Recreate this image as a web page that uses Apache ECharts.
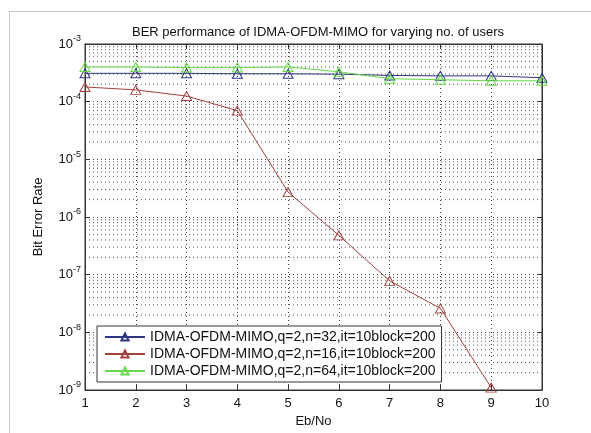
<!DOCTYPE html>
<html>
<head>
<meta charset="utf-8">
<script src="https://cdn.jsdelivr.net/npm/echarts@6/dist/echarts.min.js"></script>
<style>
  html, body { margin: 0; padding: 0; background: #fff; }
  #chart { width: 591px; height: 433px; }
</style>
</head>
<body>
<div id="chart"></div>
<script>
const ebNo = [1, 2, 3, 4, 5, 6, 7, 8, 9, 10];
const berN32 = [3.1e-4, 3.1e-4, 3.1e-4, 3.05e-4, 3.05e-4, 3.0e-4, 2.85e-4, 2.8e-4, 2.8e-4, 2.6e-4];
const berN16 = [1.8e-4, 1.6e-4, 1.25e-4, 7e-5, 2.7e-6, 4.8e-7, 7.8e-8, 2.6e-8, 1.1e-9, null];
const berN64 = [4.0e-4, 4.0e-4, 3.9e-4, 3.9e-4, 4.0e-4, 3.3e-4, 2.5e-4, 2.4e-4, 2.3e-4, 2.3e-4];
const seriesNames = [
    'IDMA-OFDM-MIMO,q=2,n=32,it=10block=200',
    'IDMA-OFDM-MIMO,q=2,n=16,it=10block=200',
    'IDMA-OFDM-MIMO,q=2,n=64,it=10block=200'
];
const colors = ['#2e3580', '#a3413f', '#66d84a'];

const FONT = 'Liberation Sans';

// minor log grid: 2..9 x 10^n, one broken polyline across the plot
let minorGrid = [];
for (let e = -9; e < -3; e++) {
    for (let k = 2; k <= 9; k++) {
        let v = k * Math.pow(10, e);
        minorGrid.push([1, v], [10, v], [10, '-']);
    }
}

const dotted = { color: '#444', type: [1, 3], width: 1 };

function makeSeries(name, values, color, z) {
    return {
        name: name,
        type: 'line',
        data: ebNo.map((x, i) => [x, values[i]]),
        symbol: 'triangle',
        symbolSize: [10, 9],
        connectNulls: false,
        z: z,
        lineStyle: { color: color, width: 1 },
        itemStyle: { color: 'rgba(255,255,255,0)', borderColor: color, borderWidth: 1 },
        emphasis: { disabled: true }
    };
}

let chartDom = document.getElementById('chart');
let myChart = echarts.init(chartDom);
let option;

option = {
    animation: false,
    backgroundColor: '#fff',
    title: {
        text: 'BER performance of IDMA-OFDM-MIMO for varying no. of users',
        left: 313,
        textAlign: 'center',
        top: 21,
        textStyle: { fontFamily: FONT, fontSize: 13, fontWeight: 'normal', color: '#111' }
    },
    graphic: [
        { type: 'line', shape: { x1: 9, y1: 11.5, x2: 591, y2: 11.5 }, style: { stroke: '#c8c8c8', lineWidth: 1 } },
        { type: 'line', shape: { x1: 9.5, y1: 11, x2: 9.5, y2: 433 }, style: { stroke: '#c8c8c8', lineWidth: 1 } }
    ],
    grid: {
        left: 85, right: 49, top: 44, bottom: 43,
        show: true, borderColor: '#333', borderWidth: 1
    },
    legend: {
        orient: 'vertical',
        left: 97,
        top: 326,
        data: seriesNames,
        itemWidth: 40,
        itemHeight: 9,
        itemGap: 3,
        padding: [4, 6, 4, 7],
        backgroundColor: '#fff',
        borderColor: '#333',
        borderWidth: 1,
        borderRadius: 0,
        z: 10,
        textStyle: { fontFamily: FONT, fontSize: 14, color: '#111' }
    },
    xAxis: [
        {
            type: 'value', min: 1, max: 10, interval: 1,
            name: 'Eb/No', nameLocation: 'middle', nameGap: 23,
            nameTextStyle: { fontFamily: FONT, fontSize: 13, color: '#111' },
            axisLine: { show: true, onZero: false, lineStyle: { color: '#333' } },
            axisTick: { inside: true, length: 5, lineStyle: { color: '#333' } },
            axisLabel: { fontFamily: FONT, fontSize: 13, color: '#111', margin: 7 },
            splitLine: { show: true, lineStyle: dotted }
        },
        {
            type: 'value', min: 1, max: 10, interval: 1, position: 'top',
            axisLine: { show: true, onZero: false, lineStyle: { color: '#333' } },
            axisTick: { inside: true, length: 5, lineStyle: { color: '#333' } },
            axisLabel: { show: false },
            splitLine: { show: false }
        }
    ],
    yAxis: [
        {
            type: 'log', logBase: 10, min: 1e-9, max: 1e-3, interval: 1,
            name: 'Bit Error Rate', nameLocation: 'middle', nameGap: 40,
            nameTextStyle: { fontFamily: FONT, fontSize: 13, color: '#111' },
            axisLine: { show: true, onZero: false, lineStyle: { color: '#333' } },
            axisTick: { inside: true, length: 5, lineStyle: { color: '#333' } },
            axisLabel: {
                margin: 4,
                formatter: function (v) {
                    let e = Math.round(Math.log10(v));
                    return '{b|10}{s|' + e + '}';
                },
                rich: {
                    b: { fontFamily: FONT, fontSize: 13, color: '#111' },
                    s: { fontFamily: FONT, fontSize: 9, color: '#111', padding: [0, 0, 10, 0] }
                }
            },
            splitLine: { show: true, lineStyle: dotted }
        },
        {
            type: 'log', logBase: 10, min: 1e-9, max: 1e-3, interval: 1, position: 'right',
            axisLine: { show: true, onZero: false, lineStyle: { color: '#333' } },
            axisTick: { inside: true, length: 5, lineStyle: { color: '#333' } },
            axisLabel: { show: false },
            splitLine: { show: false }
        }
    ],
    series: [
        {
            name: 'minor-grid',
            type: 'line',
            data: minorGrid,
            showSymbol: false,
            symbol: 'none',
            connectNulls: false,
            lineStyle: { color: '#555', type: [1, 3], width: 1 },
            z: 2,
            silent: true,
            emphasis: { disabled: true }
        },
        makeSeries(seriesNames[0], berN32, colors[0], 3),
        makeSeries(seriesNames[1], berN16, colors[1], 4),
        makeSeries(seriesNames[2], berN64, colors[2], 5)
    ]
};

option && myChart.setOption(option);
</script>
</body>
</html>
